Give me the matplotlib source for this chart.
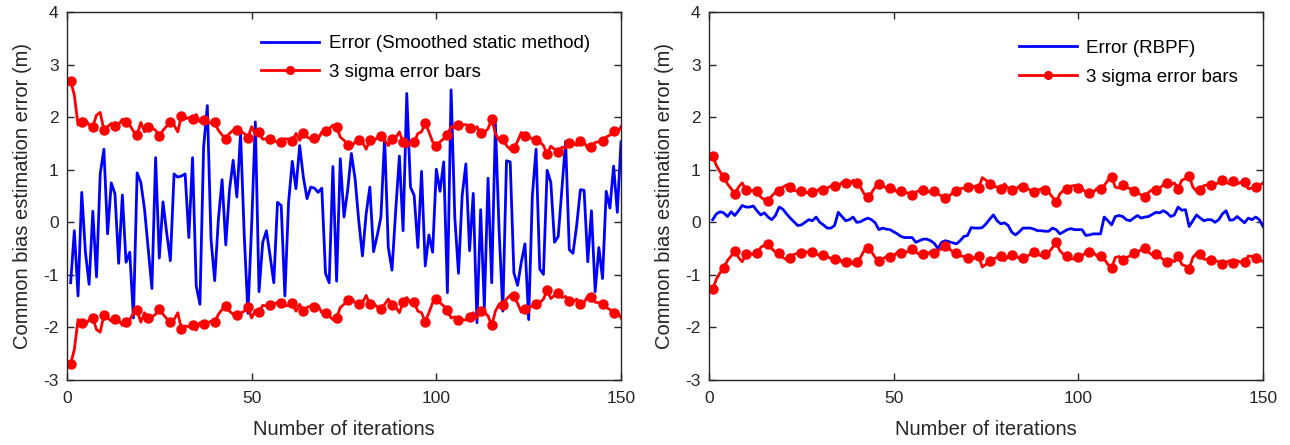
import numpy as np
import matplotlib
matplotlib.use("Agg")
import matplotlib.pyplot as plt

plt.rcParams['font.family'] = ['Liberation Sans', 'DejaVu Sans']
plt.rcParams['axes.unicode_minus'] = False

iterations = np.arange(1, 151)

# left panel: smoothed static method
err_static = [
    -1.15, -0.16, -1.40, 0.57, -0.57, -1.18, 0.21, -1.04, 0.92, 1.39,
    -0.22, 0.75, 0.54, -0.78, 0.52, -0.76, -0.57, -1.82, 0.94, 0.76,
    0.25, -0.50, -1.26, 1.23, -0.68, 0.39, -0.20, -0.73, 0.92, 0.86,
    0.88, 0.92, -0.29, 1.23, -1.21, -1.56, 1.43, 2.22, -0.32, -1.11,
    0.06, 0.81, -0.43, 0.61, 1.18, 0.48, 1.69, -0.25, -1.73, -0.06,
    1.91, -1.32, -0.38, -0.16, -0.64, -1.15, 0.38, 0.32, -1.40, 0.38,
    1.16, 0.64, 1.46, 0.86, 0.45, 0.67, 0.65, 0.57, 0.65, -0.97,
    -1.15, 1.06, -1.12, 1.21, 0.10, 0.61, 1.31, 0.83, 0.03, -0.64,
    0.16, 0.67, -0.56, -0.25, 0.10, 1.62, -0.48, -0.91, 0.22, 1.26,
    -0.16, 2.45, 0.67, 0.51, -0.48, 0.97, -0.83, -0.24, -0.57, 1.01,
    0.59, 1.15, -1.34, 2.52, 0.10, -0.97, 0.51, 1.11, -0.54, 0.55,
    -1.91, 0.24, -1.62, 0.84, -1.15, 1.88, -0.16, -1.69, 1.17, 1.15,
    -0.96, -1.20, -0.76, -0.41, -1.85, 0.51, 1.39, -0.89, -0.99, 0.99,
    0.76, -0.38, -0.27, 0.64, 1.54, -0.52, -0.59, -0.06, 0.62, 0.61,
    -0.75, 0.22, -1.32, -0.48, -1.07, 0.59, 0.27, 1.07, 0.19, 1.53,
]
sigma3_static = [
    2.69, 2.42, 1.85, 1.91, 1.96, 1.85, 1.82, 2.04, 2.09, 1.76,
    1.82, 1.88, 1.83, 1.86, 1.96, 1.90, 1.85, 1.73, 1.67, 1.90,
    1.72, 1.82, 1.80, 1.75, 1.64, 1.75, 1.83, 1.90, 1.85, 1.72,
    2.03, 1.97, 1.99, 1.96, 2.05, 1.91, 1.94, 1.92, 1.88, 1.90,
    1.75, 1.66, 1.59, 1.69, 1.75, 1.76, 1.73, 1.69, 1.61, 1.82,
    1.67, 1.71, 1.58, 1.59, 1.58, 1.56, 1.52, 1.53, 1.59, 1.58,
    1.54, 1.69, 1.56, 1.69, 1.62, 1.59, 1.61, 1.58, 1.72, 1.73,
    1.78, 1.85, 1.82, 1.62, 1.56, 1.48, 1.43, 1.53, 1.56, 1.53,
    1.39, 1.56, 1.54, 1.61, 1.64, 1.56, 1.46, 1.58, 1.61, 1.72,
    1.52, 1.43, 1.53, 1.52, 1.69, 1.72, 1.89, 1.72, 1.53, 1.46,
    1.53, 1.59, 1.67, 1.82, 1.80, 1.86, 1.85, 1.86, 1.80, 1.72,
    1.82, 1.69, 1.71, 1.78, 1.96, 1.69, 1.56, 1.58, 1.46, 1.39,
    1.41, 1.54, 1.71, 1.64, 1.62, 1.59, 1.56, 1.53, 1.46, 1.29,
    1.45, 1.39, 1.34, 1.43, 1.41, 1.50, 1.52, 1.46, 1.55, 1.53,
    1.40, 1.43, 1.52, 1.53, 1.55, 1.62, 1.66, 1.73, 1.69, 1.82,
]

# right panel: RBPF
err_rbpf = [
    0.05, 0.16, 0.20, 0.18, 0.11, 0.20, 0.13, 0.22, 0.32, 0.29,
    0.29, 0.31, 0.22, 0.14, 0.18, 0.10, 0.05, 0.13, 0.29, 0.25,
    0.16, 0.08, 0.01, -0.06, -0.05, 0.00, 0.05, 0.03, 0.10, 0.00,
    -0.05, -0.11, -0.11, -0.06, 0.19, 0.11, 0.03, 0.05, 0.10, 0.00,
    0.01, 0.05, 0.08, 0.05, -0.01, -0.14, -0.11, -0.13, -0.14, -0.18,
    -0.22, -0.27, -0.29, -0.29, -0.29, -0.38, -0.35, -0.32, -0.32, -0.35,
    -0.40, -0.50, -0.38, -0.35, -0.37, -0.39, -0.41, -0.35, -0.27, -0.25,
    -0.10, -0.11, -0.11, -0.10, -0.03, 0.06, 0.14, 0.03, -0.03, -0.01,
    -0.06, -0.19, -0.24, -0.18, -0.11, -0.11, -0.11, -0.13, -0.16, -0.16,
    -0.17, -0.17, -0.11, -0.14, -0.22, -0.18, -0.14, -0.12, -0.14, -0.14,
    -0.14, -0.25, -0.24, -0.22, -0.22, -0.22, 0.10, 0.03, -0.05, 0.11,
    0.13, 0.11, 0.05, 0.03, 0.08, 0.13, 0.08, 0.10, 0.11, 0.15,
    0.19, 0.18, 0.22, 0.18, 0.11, 0.14, 0.29, 0.23, 0.24, -0.08,
    0.03, 0.14, 0.08, 0.03, 0.05, 0.05, 0.00, 0.05, 0.16, 0.22,
    0.04, 0.05, 0.11, 0.05, -0.01, 0.08, 0.05, 0.10, 0.05, -0.08,
]
sigma3_rbpf = [
    1.27, 1.08, 0.96, 0.86, 0.73, 0.64, 0.54, 0.67, 0.75, 0.61,
    0.59, 0.61, 0.59, 0.48, 0.43, 0.41, 0.50, 0.57, 0.59, 0.67,
    0.71, 0.67, 0.61, 0.59, 0.59, 0.57, 0.56, 0.57, 0.59, 0.64,
    0.62, 0.65, 0.69, 0.70, 0.67, 0.76, 0.75, 0.70, 0.80, 0.75,
    0.67, 0.54, 0.48, 0.56, 0.67, 0.73, 0.70, 0.65, 0.66, 0.64,
    0.57, 0.59, 0.56, 0.56, 0.51, 0.57, 0.61, 0.61, 0.61, 0.56,
    0.59, 0.54, 0.50, 0.46, 0.50, 0.56, 0.59, 0.64, 0.65, 0.67,
    0.65, 0.69, 0.65, 0.85, 0.80, 0.73, 0.69, 0.67, 0.64, 0.73,
    0.65, 0.62, 0.62, 0.69, 0.67, 0.65, 0.61, 0.57, 0.61, 0.64,
    0.61, 0.57, 0.48, 0.38, 0.54, 0.61, 0.64, 0.69, 0.70, 0.66,
    0.64, 0.57, 0.56, 0.57, 0.64, 0.64, 0.70, 0.80, 0.87, 0.67,
    0.65, 0.71, 0.67, 0.64, 0.59, 0.57, 0.52, 0.48, 0.57, 0.62,
    0.61, 0.65, 0.71, 0.75, 0.71, 0.75, 0.64, 0.80, 0.83, 0.88,
    0.67, 0.59, 0.61, 0.70, 0.71, 0.71, 0.73, 0.75, 0.80, 0.76,
    0.73, 0.78, 0.73, 0.76, 0.76, 0.64, 0.65, 0.68, 0.70, 0.75,
]

panels = [
    (err_static, sigma3_static, "Error (Smoothed static method)", (0.964, 0.968)),
    (err_rbpf, sigma3_rbpf, "Error (RBPF)", (0.975, 0.955)),
]

fig = plt.figure(figsize=(12.9, 4.45), dpi=100)
axes = [fig.add_axes([0.0519, 0.146, 0.4295, 0.827]),
        fig.add_axes([0.5496, 0.146, 0.4295, 0.827])]

for ax, (err, sig, label, leg_anchor) in zip(axes, panels):
    sig = np.array(sig)
    ax.plot(iterations, err, color="blue", lw=2, label=label)
    ax.plot(iterations, sig, color="red", lw=2, marker="o", ms=6.5,
            markevery=3, label="3 sigma error bars")
    ax.plot(iterations, -sig, color="red", lw=2, marker="o", ms=6.5,
            markevery=3)
    ax.set_xlim(0, 150)
    ax.set_ylim(-3, 4)
    ax.set_xticks([0, 50, 100, 150])
    ax.set_yticks(range(-3, 5))
    ax.tick_params(direction="in", top=True, right=True, labelsize=12.5,
                   length=5, width=1, colors="#262626")
    ax.tick_params(axis="x", pad=8)
    ax.tick_params(axis="y", pad=6)
    for s in ax.spines.values():
        s.set_linewidth(1)
        s.set_color("#262626")
    ax.set_xlabel("Number of iterations", fontsize=14.5, color="#262626", labelpad=10)
    ax.set_ylabel("Common bias estimation error (m)", fontsize=14.5,
                  color="#262626", labelpad=8)
    ax.legend(loc="upper right", bbox_to_anchor=leg_anchor, frameon=False,
              fontsize=13.5, handlelength=3.1, handletextpad=0.5,
              labelspacing=0.62, borderaxespad=0.2, markerscale=0.85)

fig.savefig("out.png", dpi=100)
